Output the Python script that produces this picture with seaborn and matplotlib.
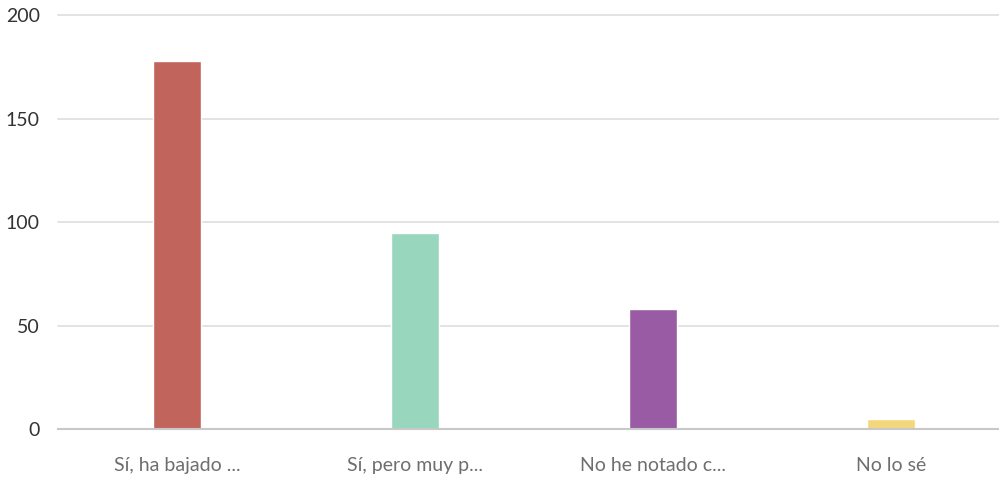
import matplotlib
matplotlib.use("Agg")
import matplotlib.pyplot as plt
import seaborn as sns
import pandas as pd

categories = ["Sí, ha bajado ...", "Sí, pero muy p...", "No he notado c...", "No lo sé"]
counts = [178, 95, 58, 5]
bar_colors = ["#c0645c", "#98d6bd", "#9a5ba5", "#f4d77c"]
y_ticks = [0, 50, 100, 150, 200]

df = pd.DataFrame({"category": categories, "count": counts})

sns.set_style("white")
plt.rcParams["font.family"] = ["Lato", "DejaVu Sans"]

fig = plt.figure(figsize=(9.99, 4.8), dpi=100)
ax = fig.add_axes([0.058, 0.106, 0.942, 0.862])

sns.barplot(data=df, x="category", y="count", hue="category",
            palette=bar_colors, width=0.2, legend=False, ax=ax,
            saturation=1)

ax.set_ylim(0, 200)
ax.set_xlim(-0.5, 3.454)
ax.set_yticks(y_ticks)
ax.yaxis.grid(True, color="#dedede", linewidth=1.2)
for line in ax.get_ygridlines():
    line.set_clip_on(False)
ax.set_axisbelow(True)

for s in ["top", "right", "left"]:
    ax.spines[s].set_visible(False)
ax.spines["bottom"].set_color("#c8c8c8")
ax.spines["bottom"].set_linewidth(1.5)

ax.tick_params(axis="y", length=0, labelsize=14, labelcolor="#333333", pad=13)
ax.tick_params(axis="x", length=6, width=1, color="#999999",
               labelsize=14, labelcolor="#6e6e6e", pad=14, direction="out")
ax.set_xlabel("")
ax.set_ylabel("")

fig.savefig("out.png", dpi=100)
